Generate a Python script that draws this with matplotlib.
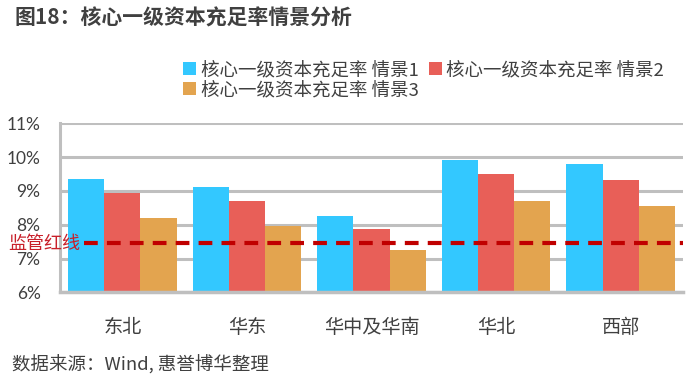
import matplotlib
matplotlib.use("Agg")
import matplotlib.pyplot as plt
import numpy as np

plt.rcParams['font.family'] = ['Noto Sans CJK SC', 'DejaVu Sans']

categories = ["东北", "华东", "华中及华南", "华北", "西部"]
series_names = ["核心一级资本充足率 情景1", "核心一级资本充足率 情景2", "核心一级资本充足率 情景3"]
scenario1 = [9.36, 9.12, 8.25, 9.91, 9.80]
scenario2 = [8.95, 8.69, 7.88, 9.50, 9.31]
scenario3 = [8.19, 7.95, 7.26, 8.69, 8.56]
red_line = 7.45
yticks = [6, 7, 8, 9, 10, 11]
ytick_labels = ["6%", "7%", "8%", "9%", "10%", "11%"]
title = "图18：核心一级资本充足率情景分析"
source = "数据来源：Wind, 惠誉博华整理"
red_line_label = "监管红线"

colors = ["#33C8FF", "#E85F58", "#E3A44F"]
text_color = "#404040"
grid_color = "#BFBFBF"

fig = plt.figure(figsize=(6.98, 3.86), dpi=100)
ax = fig.add_axes([60/698, 1-292.3/386, 623/698, (292.3-123.3)/386])

x = np.arange(len(categories))
w = 0.29
handles = []
for i, (vals, c, name) in enumerate(zip([scenario1, scenario2, scenario3], colors, series_names)):
    b = ax.bar(x + (i-1)*w, vals, width=w, color=c, label=name, zorder=2, bottom=0)
    handles.append(b)

ax.set_xlim(-0.5, len(categories)-0.5)
ax.set_ylim(6, 11)
ax.set_yticks(yticks)
ax.set_yticklabels(ytick_labels, fontfamily='Lato', fontsize=12.5, color=text_color)
ax.set_xticks(x)
ax.set_xticklabels(categories, fontsize=13.8, color=text_color)
ax.tick_params(axis='both', length=0)
ax.tick_params(axis='y', pad=14)
ax.tick_params(axis='x', pad=18)
ax.yaxis.grid(True, color=grid_color, linewidth=2.2, zorder=0)
ax.set_axisbelow(True)
for s in ['top', 'right']:
    ax.spines[s].set_visible(False)
ax.spines['left'].set_color(grid_color)
ax.spines['left'].set_linewidth(2.2)
ax.spines['bottom'].set_color(grid_color)
ax.spines['bottom'].set_linewidth(2.5)

ax.axhline(red_line, xmin=0.039, xmax=1.0, color="#C00000", linewidth=3,
           dashes=(3.3, 2.2), zorder=3)
fig.text(8/698, 1-244/386, red_line_label, color="#C8202A", fontsize=13, va='center', ha='left')

order = [0, 2, 1]
leg = fig.legend([handles[i] for i in order], [series_names[i] for i in order],
                 ncol=2, loc='upper left', bbox_to_anchor=(183/698, 1-61/386),
                 frameon=False, fontsize=13.3, handlelength=0.7, handleheight=0.7,
                 handletextpad=0.25, columnspacing=0.55, labelspacing=0.12, borderaxespad=0,
                 borderpad=0)
for t in leg.get_texts():
    t.set_color(text_color)

fig.text(14/698, 1-18/386, title, fontsize=15, fontweight='bold', color=text_color,
         va='center', ha='left')
fig.text(12/698, 1-365/386, source, fontsize=13.3, color=text_color, va='center', ha='left')

fig.savefig("out.png", dpi=100)
